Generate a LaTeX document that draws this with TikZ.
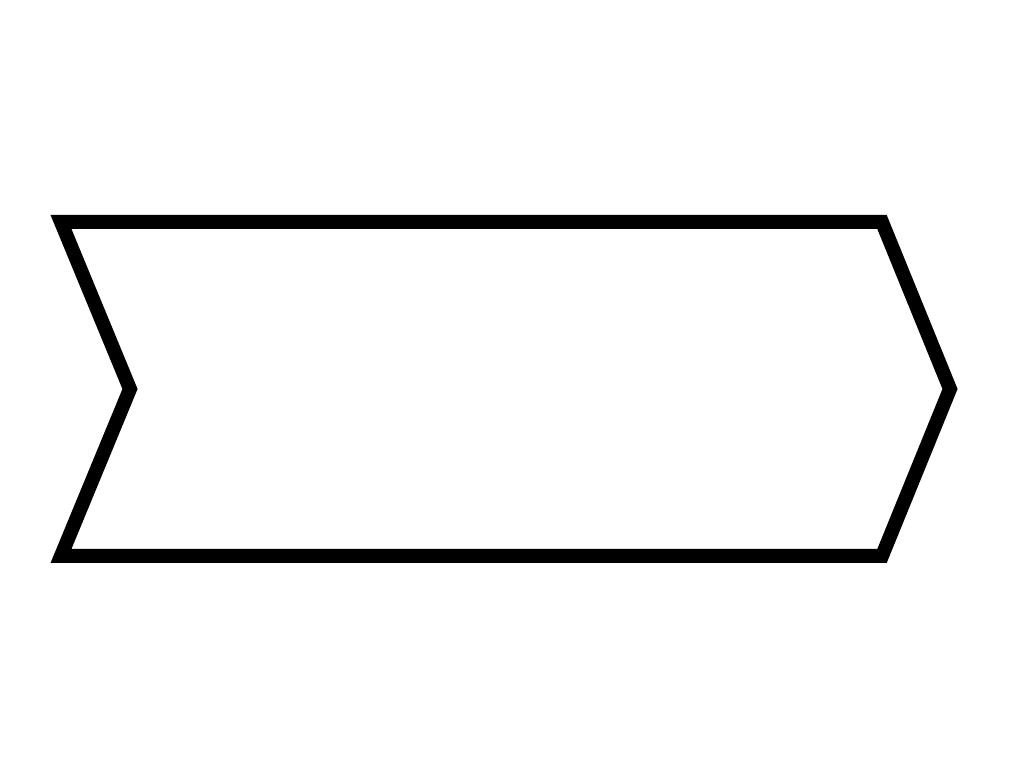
\documentclass[tikz,border=0pt]{standalone}
\begin{document}
\begin{tikzpicture}[x=0.1mm, y=-0.1mm, line width=1.4mm, line join=miter]
			\useasboundingbox (0, 0) rectangle (1009, 780);
			\coordinate (TL) at (61, 222);
			\coordinate (TR) at (882, 222);
			\coordinate (Tip) at (950, 389);
			\coordinate (BR) at (882, 556);
			\coordinate (BL) at (61, 556);
			\coordinate (Notch) at (130, 389);
			\draw (TL) -- (TR) -- (Tip) -- (BR) -- (BL) -- (Notch) -- cycle;
		\end{tikzpicture}
\end{document}
